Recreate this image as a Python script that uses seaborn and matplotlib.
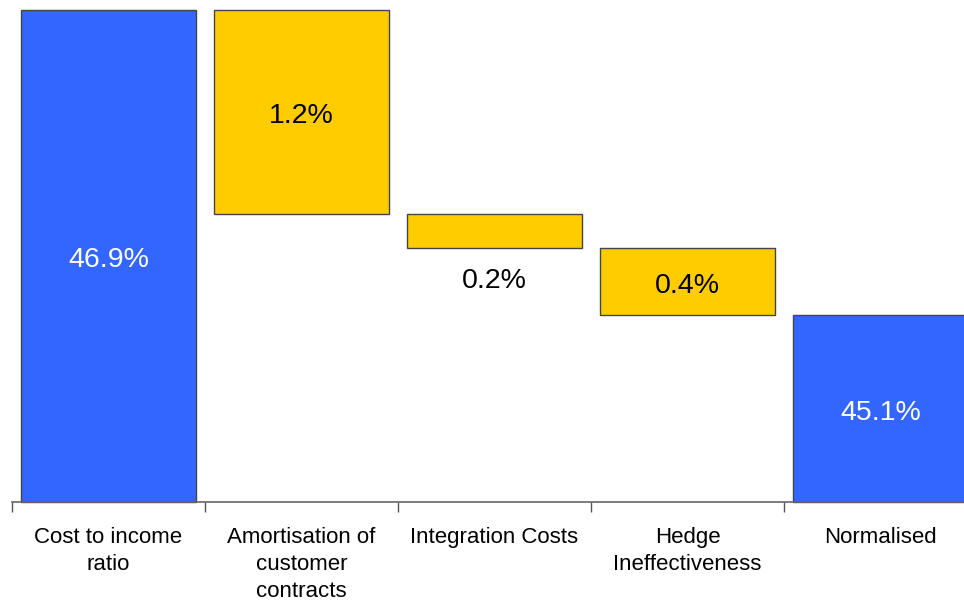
import matplotlib
matplotlib.use("Agg")
import matplotlib.pyplot as plt
import matplotlib.transforms as mtransforms
import seaborn as sns
import numpy as np

categories = ["Cost to income\nratio", "Amortisation of\ncustomer\ncontracts",
              "Integration Costs", "Hedge\nIneffectiveness", "Normalised"]
changes = [46.9, -1.2, -0.2, -0.4, 45.1]
kinds = ["total", "delta", "delta", "delta", "total"]
labels = ["46.9%", "1.2%", "0.2%", "0.4%", "45.1%"]
base_value = 44.0

# compute waterfall bottoms/heights
bottoms, heights = [], []
running = 0.0
for c, k in zip(changes, kinds):
    if k == "total":
        bottoms.append(base_value)
        heights.append(c - base_value)
        running = c
    else:
        new = running + c
        bottoms.append(new)
        heights.append(-c)
        running = new

sns.set_theme(style="white")
plt.rcParams["font.family"] = ["Liberation Sans", "DejaVu Sans"]

fig = plt.figure(figsize=(9.64, 6.0), dpi=100)
W, H = 964, 600
left_px, right_px = 12, 12 + 5 * 193
top_px, bot_px = 10, 502
ax = fig.add_axes([left_px / W, 1 - bot_px / H, (right_px - left_px) / W, (bot_px - top_px) / H])

sns.barplot(x=categories, y=heights, bottom=bottoms, ax=ax, width=0.905,
            edgecolor="#444444", linewidth=1.0, color="#3366FF")
colors = ["#3366FF", "#FFCC00", "#FFCC00", "#FFCC00", "#3366FF"]
for p, col in zip(ax.patches, colors):
    p.set_facecolor(col)
    p.set_clip_on(False)

ax.set_ylim(base_value, 46.9)
ax.set_xlim(-0.5, 4.5)

# data labels
shift = mtransforms.offset_copy(ax.transData, fig=fig, x=0, y=-3, units="points")
for i, (b, h, lab, col) in enumerate(zip(bottoms, heights, labels, colors)):
    txtcol = "white" if col == "#3366FF" else "black"
    if i == 2:
        y = b - 0.175
    else:
        y = b + h / 2
    ax.text(i, y, lab, ha="center", va="center", fontsize=20.5, color=txtcol,
            transform=shift)

for s in ["left", "right", "top"]:
    ax.spines[s].set_visible(False)
ax.spines["bottom"].set_color("#666666")
ax.spines["bottom"].set_linewidth(1.2)
ax.set_yticks([])
ax.set_xticks(range(5))
ax.set_xticklabels(categories, fontsize=16, color="black", linespacing=1.36, va="top")
ax.tick_params(axis="x", which="major", length=0, pad=18)
ax.set_xticks(np.arange(-0.5, 5.0, 1.0), minor=True)
ax.tick_params(axis="x", which="minor", length=7, width=1, color="#555555", bottom=True)

fig.savefig("out.png", dpi=100)
